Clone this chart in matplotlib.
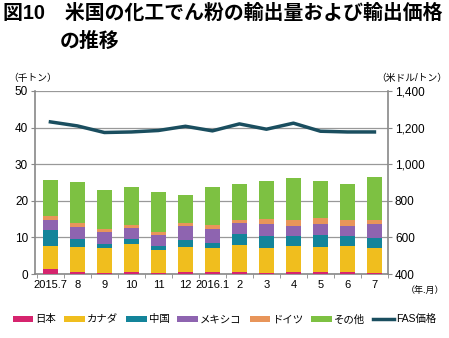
import matplotlib.pyplot as plt
import numpy as np

plt.rcParams['font.family'] = ['Liberation Sans', 'Noto Sans CJK JP', 'DejaVu Sans']

months = ['2015.7', '8', '9', '10', '11', '12', '2016.1', '2', '3', '4', '5', '6', '7']

# stacked values (thousand tons)
japan = [1.4, 0.5, 0.3, 0.6, 0.4, 0.5, 0.6, 0.6, 0.4, 0.5, 0.5, 0.6, 0.4]
canada = [6.4, 7.0, 6.9, 7.6, 6.3, 7.0, 6.5, 7.3, 6.7, 7.2, 6.9, 7.0, 6.7]
china = [4.2, 2.1, 0.9, 1.3, 1.0, 1.9, 1.5, 3.1, 3.4, 2.6, 3.4, 2.8, 2.8]
mexico = [2.7, 3.2, 3.4, 3.1, 3.0, 3.6, 3.8, 2.9, 3.1, 2.8, 2.8, 2.7, 3.7]
germany = [1.1, 1.1, 0.8, 0.8, 0.8, 0.9, 1.0, 1.0, 1.4, 1.7, 1.8, 1.7, 1.2]
other = [9.8, 11.2, 10.6, 10.3, 10.8, 7.6, 10.3, 9.6, 10.3, 11.5, 10.0, 9.9, 11.7]

fas_price = [1231, 1209, 1173, 1176, 1184, 1207, 1182, 1220, 1191, 1224, 1180, 1176, 1176]

series = [japan, canada, china, mexico, germany, other]
names = ['日本', 'カナダ', '中国', 'メキシコ', 'ドイツ', 'その他']
colors = ['#d6246e', '#f0be1e', '#13849a', '#8e64b0', '#e8955a', '#7dc142']

fig = plt.figure(figsize=(4.49, 3.38), dpi=100)
ax = fig.add_axes([0.078, 0.189, 0.786, 0.542])

x = np.arange(len(months))
bottom = np.zeros(len(months))
for vals, name, c in zip(series, names, colors):
    ax.bar(x, vals, 0.56, bottom=bottom, color=c, label=name, zorder=3)
    bottom += np.array(vals)

ax.set_ylim(0, 50)
ax.set_yticks(range(0, 51, 10))
ax.set_xlim(-0.57, 12.45)
ax.set_xticks(x)
ax.set_xticklabels(months, fontsize=8)
ax.set_xticks(np.arange(-0.5, 12.6, 1), minor=True)
ax.tick_params(axis='x', which='major', length=0, pad=4)
ax.tick_params(axis='x', which='minor', length=3, color='#888888')
ax.tick_params(axis='y', labelsize=8.5, length=3, color='#888888', pad=2)
ax.grid(axis='y', color='#999999', linewidth=0.9, zorder=0)
for s in ['top', 'right']:
    ax.spines[s].set_visible(False)
for s in ['left', 'bottom']:
    ax.spines[s].set_color('#888888')
    ax.spines[s].set_linewidth(1.2)

ax2 = ax.twinx()
ax2.plot(x, fas_price, color='#1a4e5f', linewidth=2.5, label='FAS価格', zorder=4)
ax2.set_ylim(400, 1400)
ax2.set_yticks(range(400, 1401, 200))
ax2.set_yticklabels(['{:,}'.format(v) for v in range(400, 1401, 200)])
ax2.tick_params(axis='y', labelsize=8.5, length=3, color='#888888', pad=2)
for s in ['top', 'left', 'bottom']:
    ax2.spines[s].set_visible(False)
ax2.spines['right'].set_color('#888888')
ax2.spines['right'].set_linewidth(1.2)

fig.text(0.006, 0.99, '図10　米国の化工でん粉の輸出量および輸出価格', fontsize=14.3,
         fontweight='bold', va='top', ha='left')
fig.text(0.132, 0.905, 'の推移', fontsize=14.3, fontweight='bold', va='top', ha='left')
fig.text(0.018, 0.77, '（千トン）', fontsize=7, va='center', ha='left')
fig.text(0.995, 0.77, '（米ドル/トン）', fontsize=7, va='center', ha='right')
fig.text(0.99, 0.14, '（年.月）', fontsize=6.5, va='center', ha='right')

h1, l1 = ax.get_legend_handles_labels()
h2, l2 = ax2.get_legend_handles_labels()
fig.legend(h1 + h2, l1 + l2, loc='center', bbox_to_anchor=(0.5, 0.055), ncol=7,
           frameon=False, fontsize=7.5, handlelength=2.0, handleheight=0.55,
           handletextpad=0.2, columnspacing=0.75)

fig.savefig('out.png', dpi=100)
